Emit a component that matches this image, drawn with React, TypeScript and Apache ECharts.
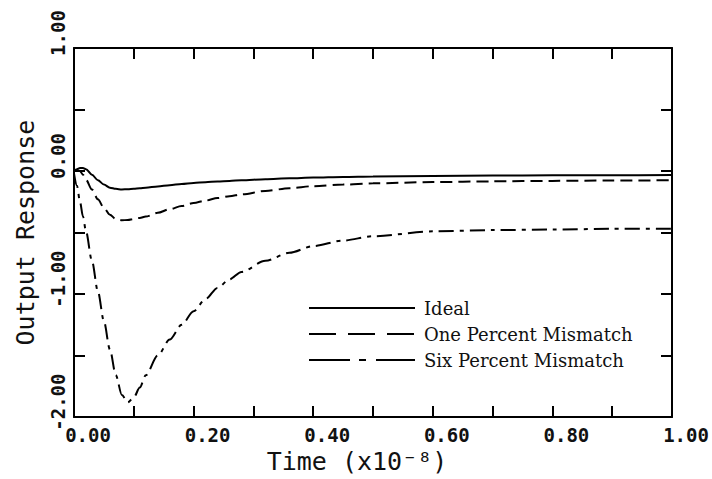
import React, { useEffect, useRef } from "react";
import * as echarts from "echarts";

const TIME = [0, 0.005, 0.01, 0.015, 0.02, 0.03, 0.04, 0.05, 0.06, 0.07, 0.08, 0.09, 0.1, 0.11, 0.12, 0.14, 0.16, 0.18, 0.2, 0.22, 0.24, 0.26, 0.28, 0.32, 0.36, 0.4, 0.45, 0.5, 0.6, 0.7, 0.8, 0.9, 1.0];
const IDEAL = [0.0, 0.015, 0.025, 0.025, 0.015, -0.03, -0.075, -0.11, -0.135, -0.145, -0.15, -0.148, -0.145, -0.14, -0.135, -0.125, -0.115, -0.105, -0.097, -0.091, -0.085, -0.08, -0.075, -0.066, -0.059, -0.053, -0.048, -0.044, -0.04, -0.037, -0.035, -0.034, -0.033];
const ONE_PCT = [0.0, 0.005, 0.0, -0.03, -0.07, -0.15, -0.23, -0.3, -0.355, -0.39, -0.4, -0.398, -0.39, -0.381, -0.37, -0.34, -0.31, -0.285, -0.26, -0.24, -0.22, -0.204, -0.19, -0.162, -0.14, -0.123, -0.11, -0.1, -0.09, -0.084, -0.08, -0.077, -0.075];
const SIX_PCT = [-0.02, -0.12, -0.25, -0.37, -0.49, -0.73, -0.98, -1.22, -1.45, -1.66, -1.82, -1.88, -1.84, -1.76, -1.66, -1.5, -1.37, -1.25, -1.14, -1.04, -0.95, -0.88, -0.82, -0.73, -0.665, -0.61, -0.565, -0.53, -0.49, -0.48, -0.475, -0.47, -0.47];

const SERIES_NAMES = ["Ideal", "One Percent Mismatch", "Six Percent Mismatch"];
const X_TITLE = "Time (x10\u207B\u2078)";
const Y_TITLE = "Output Response";

export default function App() {
  const ref = useRef<HTMLDivElement>(null);
  useEffect(() => {
    if (!ref.current) return;
    const chart = echarts.init(ref.current, null, { renderer: "svg" });
    const mono = "DejaVu Sans Mono";
    const axisLine = { show: true, onZero: false, lineStyle: { color: "#000", width: 2 } };
    const tick = { show: true, inside: true, length: 11, lineStyle: { color: "#000", width: 2 } };
    const mk = (vals: number[]) => TIME.map((t, i) => [t, vals[i]]);
    const hiddenSymbol = { opacity: 0, borderWidth: 0 };
    chart.setOption({
      animation: false,
      backgroundColor: "#fff",
      grid: { left: 74, top: 48, right: 40, bottom: 57, containLabel: false },
      legend: {
        orient: "vertical",
        left: 303,
        top: 293,
        itemWidth: 106,
        itemHeight: 14,
        itemGap: 6,
        textStyle: { fontFamily: "DejaVu Serif", fontSize: 18, color: "#111", padding: [0, 0, 0, 4], lineHeight: 20 },
        data: [
          { name: SERIES_NAMES[0], itemStyle: hiddenSymbol, lineStyle: { type: "solid", width: 2, color: "#000" } },
          { name: SERIES_NAMES[1], itemStyle: hiddenSymbol, lineStyle: { type: [27, 12], width: 2, color: "#000" } },
          { name: SERIES_NAMES[2], itemStyle: hiddenSymbol, lineStyle: { type: [41, 9, 7, 10], width: 2, color: "#000" } },
        ],
      },
      xAxis: [
        {
          type: "value",
          min: 0,
          max: 1,
          interval: 0.1,
          position: "bottom",
          axisLine,
          axisTick: tick,
          splitLine: { show: false },
          axisLabel: {
            margin: 8,
            fontFamily: mono,
            fontSize: 19,
            fontWeight: "bold",
            color: "#111",
            padding: [0, 0, 0, 28],
            formatter: (v: number) => (Math.round(v * 10) % 2 === 0 ? v.toFixed(2) : ""),
          },
          name: X_TITLE,
          nameLocation: "middle",
          nameGap: 30,
          nameTextStyle: { fontFamily: mono, fontSize: 25, color: "#111", padding: [0, 32, 0, 0] },
        },
        {
          type: "value",
          min: 0,
          max: 1,
          interval: 0.1,
          position: "top",
          axisLine,
          axisTick: tick,
          axisLabel: { show: false },
          splitLine: { show: false },
        },
      ],
      yAxis: [
        {
          type: "value",
          min: -2,
          max: 1,
          interval: 0.5,
          position: "left",
          axisLine,
          axisTick: tick,
          splitLine: { show: false },
          axisLabel: {
            rotate: 90,
            margin: 7,
            fontFamily: mono,
            fontSize: 19,
            fontWeight: "bold",
            color: "#111",
            padding: [0, 0, 0, 30],
            formatter: (v: number) => (Math.abs(v - Math.round(v)) < 1e-9 ? v.toFixed(2) : ""),
          },
          name: Y_TITLE,
          nameLocation: "middle",
          nameRotate: 90,
          nameGap: 36,
          nameTextStyle: { fontFamily: mono, fontSize: 25, color: "#111" },
        },
        {
          type: "value",
          min: -2,
          max: 1,
          interval: 0.5,
          position: "right",
          axisLine,
          axisTick: tick,
          axisLabel: { show: false },
          splitLine: { show: false },
        },
      ],
      series: [
        {
          name: SERIES_NAMES[0],
          type: "line",
          data: mk(IDEAL),
          symbol: "none",
          smooth: 0.3,
          smoothMonotone: "x",
          lineStyle: { color: "#000", width: 2, type: "solid" },
        },
        {
          name: SERIES_NAMES[1],
          type: "line",
          data: mk(ONE_PCT),
          symbol: "none",
          smooth: 0.3,
          smoothMonotone: "x",
          lineStyle: { color: "#000", width: 2, type: [12, 6] },
        },
        {
          name: SERIES_NAMES[2],
          type: "line",
          data: mk(SIX_PCT),
          symbol: "none",
          smooth: 0.3,
          smoothMonotone: "x",
          lineStyle: { color: "#000", width: 2, type: [15, 6, 4, 6] },
        },
      ],
    });
    return () => chart.dispose();
  }, []);
  return <div ref={ref} style={{ width: 712, height: 479, position: "absolute", left: 0, top: 0 }} />;
}
